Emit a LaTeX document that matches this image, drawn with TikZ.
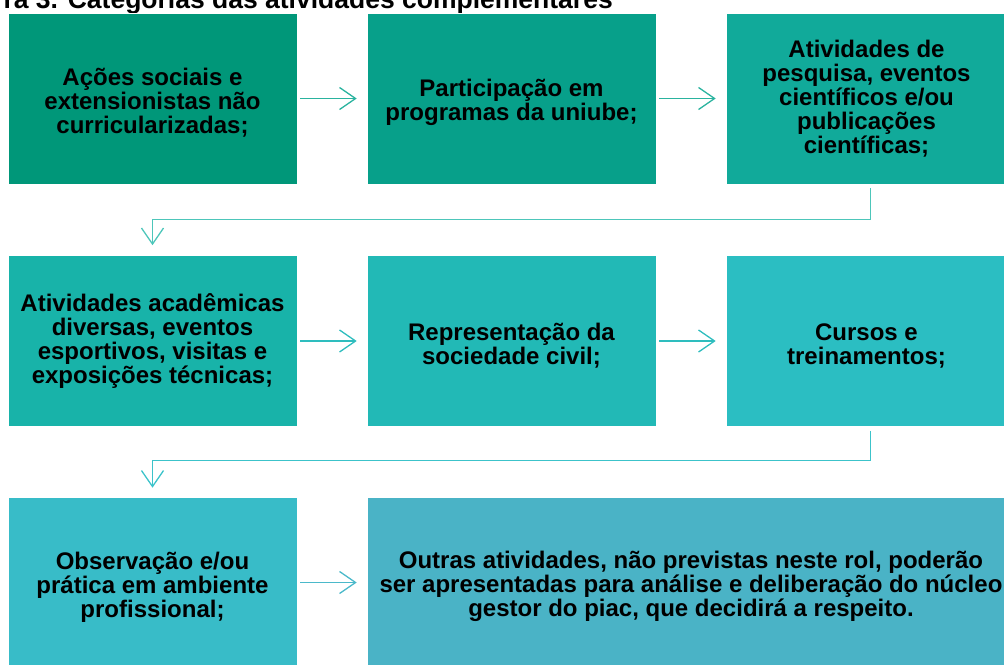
\documentclass[tikz,border=0pt]{standalone}
\usepackage{fontspec}
\setmainfont{Liberation Sans}
\usetikzlibrary{arrows.meta}
\definecolor{cA}{HTML}{009779}
\definecolor{cB}{HTML}{07A08A}
\definecolor{cC}{HTML}{11AA9A}
\definecolor{cD}{HTML}{18B3A9}
\definecolor{cE}{HTML}{22B9B6}
\definecolor{cF}{HTML}{2BBEC2}
\definecolor{cG}{HTML}{38BCC8}
\definecolor{cH}{HTML}{4AB3C6}
\definecolor{aA}{HTML}{2AB39F}
\definecolor{aB}{HTML}{4DC6BA}
\definecolor{aC}{HTML}{2EBDBE}
\definecolor{aD}{HTML}{3CC3CA}
\definecolor{aE}{HTML}{4BB9CA}
\newcommand{\dn}{\rule{0pt}{26pt}}
\begin{document}
\begin{tikzpicture}[x=1pt,y=-1pt,
  box/.style={minimum width=289pt,minimum height=171pt,draw=white,line width=0.6pt,inner sep=0pt,align=center,text=black,font=\bfseries\fontsize{24}{24}\selectfont},
  arr/.style={line width=1.3pt,-{Straight Barb[length=16pt,width=22pt,line width=1.3pt]}}]
\useasboundingbox (0,0) rectangle (1004,664);
\node[anchor=base west,font=\bfseries\fontsize{26.5}{26.5}\selectfont] (title) at (0,8.5) {ra 3. Categorias das atividades complementares};
\node[box,fill=cA] (b1) at (152.5,98.5) {\dn Ações sociais e\\extensionistas não\\curricularizadas;};
\node[box,fill=cB] (b2) at (511.5,98.5) {\dn Participação em\\programas da uniube;};
\node[box,fill=cC] (b3) at (870.5,98.5) {\hspace*{-8pt}Atividades de\\\hspace*{-8pt}pesquisa, eventos\\\hspace*{-8pt}científicos e/ou\\\hspace*{-8pt}publicações\\\hspace*{-8pt}científicas;};
\node[box,fill=cD] (b4) at (152.5,341) {Atividades acadêmicas\\diversas, eventos\\esportivos, visitas e\\exposições técnicas;};
\node[box,fill=cE] (b5) at (511.5,341) {\dn Representação da\\sociedade civil;};
\node[box,fill=cF] (b6) at (870.5,341) {\dn\hspace*{-8pt}Cursos e\\\hspace*{-8pt}treinamentos;};
\node[box,fill=cG] (b7) at (152.5,582.5) {\dn Observação e/ou\\prática em ambiente\\profissional;};
\node[box,fill=cH,minimum width=648pt] (b8) at (691,582.5) {\dn Outras atividades, não previstas neste rol, poderão\\ser apresentadas para análise e deliberação do núcleo\\gestor do piac, que decidirá a respeito.};
\draw[arr,aA] ([xshift=3pt]b1.east) -- ([xshift=-10pt]b2.west);
\draw[arr,aA] ([xshift=3pt]b2.east) -- ([xshift=-10pt]b3.west);
\draw[arr,aB] ([yshift=-4pt]b3.south) -- ++(0,31) -| ([yshift=10pt]b4.north);
\draw[arr,aC] ([xshift=3pt]b4.east) -- ([xshift=-10pt]b5.west);
\draw[arr,aC] ([xshift=3pt]b5.east) -- ([xshift=-10pt]b6.west);
\draw[arr,aD] ([yshift=-4pt]b6.south) -- ++(0,30) -| ([yshift=9pt]b7.north);
\draw[arr,aE] ([xshift=3pt]b7.east) -- ([xshift=-10pt]b8.west);
\end{tikzpicture}
\end{document}
